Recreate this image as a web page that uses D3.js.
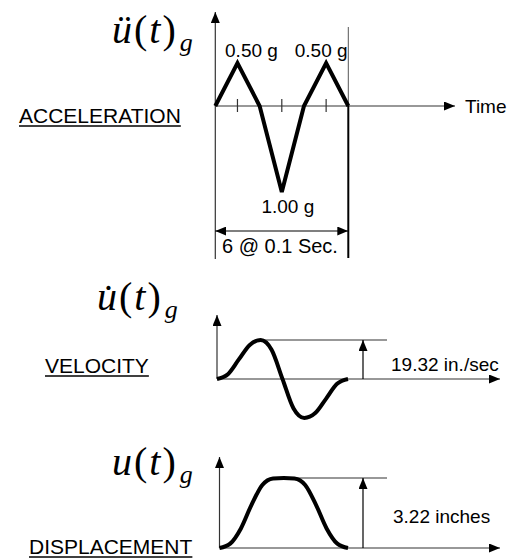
<!DOCTYPE html>
<html>
<head>
<meta charset="utf-8">
<script src="https://cdn.jsdelivr.net/npm/d3@7"></script>
<style>
  html, body { margin: 0; padding: 0; background: #fff; }
  svg { display: block; }
</style>
</head>
<body>
<svg id="chart"></svg>
<script>
// ground motion data
const accTimes = [0, 0.1, 0.2, 0.3, 0.4, 0.5, 0.6];          // sec
const accValues = [0, 0.5, 0, -1.0, 0, 0.5, 0];              // g
const accTicks = [0.1, 0.3, 0.5];

const curveTimes = [0, 0.05, 0.1, 0.15, 0.2, 0.25, 0.3, 0.35, 0.4, 0.45, 0.5, 0.55, 0.6];
const velValues = [0, 2.4, 9.7, 16.9, 19.32, 14.5, 0, -14.5, -19.32, -16.9, -9.7, -2.4, 0];   // in./sec
const dispValues = [0, 0.2, 0.9, 2.0, 2.9, 3.2, 3.22, 3.2, 2.9, 2.0, 0.9, 0.2, 0];            // inches

const peakLabels = ["0.50 g", "0.50 g"];
const troughLabel = "1.00 g";
const spanLabel = "6 @ 0.1 Sec.";
const velLabel = "19.32 in./sec";
const dispLabel = "3.22 inches";
const panelNames = ["ACCELERATION", "VELOCITY", "DISPLACEMENT"];

const width = 515, height = 558;
const sans = "'Liberation Sans', Arial, sans-serif";
const serif = "'Liberation Serif', 'Times New Roman', serif";

const svg = d3.select("#chart").attr("width", width).attr("height", height);

// arrow head marker
const defs = svg.append("defs");
defs.append("marker")
  .attr("id", "arrow")
  .attr("markerUnits", "userSpaceOnUse")
  .attr("markerWidth", 11).attr("markerHeight", 9)
  .attr("refX", 11).attr("refY", 4.5)
  .attr("orient", "auto-start-reverse")
  .append("path")
  .attr("d", "M0,0 L11,4.5 L0,9 Z")
  .attr("fill", "#000");

function arrowLine(x1, y1, x2, y2, opts = {}) {
  const l = svg.append("line")
    .attr("x1", x1).attr("y1", y1).attr("x2", x2).attr("y2", y2)
    .attr("stroke", opts.color || "#333")
    .attr("stroke-width", opts.w || 1.2);
  if (opts.end !== false) l.attr("marker-end", "url(#arrow)");
  if (opts.start) l.attr("marker-start", "url(#arrow)");
  return l;
}

function label(x, y, txt, size, anchor) {
  return svg.append("text")
    .attr("x", x).attr("y", y)
    .attr("font-family", sans)
    .attr("font-size", size)
    .attr("text-anchor", anchor || "start")
    .attr("fill", "#000")
    .text(txt);
}

function underlined(x, y, txt) {
  const t = label(x, y, txt, 21);
  const len = t.node().getComputedTextLength();
  svg.append("line")
    .attr("x1", x).attr("x2", x + len)
    .attr("y1", y + 3).attr("y2", y + 3)
    .attr("stroke", "#000").attr("stroke-width", 1.5);
}

// u(t)_g symbol, u with optional diacritic
function symbol(x, y, u) {
  const t = svg.append("text")
    .attr("x", x).attr("y", y)
    .attr("font-family", serif)
    .attr("font-size", 40)
    .attr("fill", "#000");
  t.append("tspan").attr("font-style", "italic").text(u);
  t.append("tspan").attr("dx", 2).text("(");
  t.append("tspan").attr("dx", 2).attr("font-style", "italic").text("t");
  t.append("tspan").attr("dx", 2).text(")");
  t.append("tspan").attr("dx", 4).attr("dy", 8)
    .attr("font-size", 26).attr("font-style", "italic").text("g");
}

// ---------- ACCELERATION ----------
const xA = d3.scaleLinear().domain([0, 0.6]).range([215.3, 348.3]);
const yA = d3.scaleLinear().domain([-1, 0.5]).range([192, 63]);

symbol(112, 43, "\u00fc");
underlined(19, 123, panelNames[0]);

// box sides and axes
arrowLine(xA(0), 259, xA(0), 12);
arrowLine(xA(0), yA(0), 455, yA(0));
svg.append("line")
  .attr("x1", xA(0.6)).attr("x2", xA(0.6)).attr("y1", 27).attr("y2", yA(0))
  .attr("stroke", "#555").attr("stroke-width", 1);
svg.append("line")
  .attr("x1", xA(0.6)).attr("x2", xA(0.6)).attr("y1", yA(0)).attr("y2", 258)
  .attr("stroke", "#000").attr("stroke-width", 2);

svg.selectAll(".acc-tick")
  .data(accTicks)
  .enter()
  .append("line")
  .attr("class", "acc-tick")
  .attr("x1", (d) => xA(d)).attr("x2", (d) => xA(d))
  .attr("y1", yA(0) - 7).attr("y2", yA(0) + 6)
  .attr("stroke", "#333").attr("stroke-width", 1.2);

svg.append("path")
  .datum(accTimes.map((t, i) => [t, accValues[i]]))
  .attr("d", d3.line().x((d) => xA(d[0])).y((d) => yA(d[1])))
  .attr("fill", "none")
  .attr("stroke", "#000")
  .attr("stroke-width", 4)
  .attr("stroke-linejoin", "miter");

label(465, yA(0) + 7, "Time", 19);

// peak / trough labels
const peakOffsets = [14, -5];
const peakTimes = [0.1, 0.5];
peakLabels.forEach((txt, i) => label(xA(peakTimes[i]) + peakOffsets[i], 57, txt, 19, "middle"));
label(xA(0.3) + 6, 213, troughLabel, 19, "middle");

// 6 @ 0.1 Sec. dimension
arrowLine(xA(0), 231, xA(0.6), 231, { start: true, color: "#000" });
label(222, 253, spanLabel, 20);

// ---------- VELOCITY ----------
const xV = d3.scaleLinear().domain([0, 0.6]).range([217, 348]);
const yV = d3.scaleLinear().domain([-19.32, 19.32]).range([418, 340]);

symbol(97, 310, "u\u0307");
underlined(45, 373, panelNames[1]);

arrowLine(xV(0), yV(0), xV(0), 315);
arrowLine(xV(0), yV(0), 500, yV(0));
svg.append("line")
  .attr("x1", xV(0.2)).attr("x2", 387).attr("y1", yV(19.32)).attr("y2", yV(19.32))
  .attr("stroke", "#333").attr("stroke-width", 1.2);
arrowLine(363, yV(0), 363, yV(19.32), { color: "#000" });

svg.append("path")
  .datum(curveTimes.map((t, i) => [t, velValues[i]]))
  .attr("d", d3.line().curve(d3.curveMonotoneX).x((d) => xV(d[0])).y((d) => yV(d[1])))
  .attr("fill", "none")
  .attr("stroke", "#000")
  .attr("stroke-width", 4);

label(391, 371, velLabel, 19);

// ---------- DISPLACEMENT ----------
const xD = d3.scaleLinear().domain([0, 0.6]).range([219.5, 348]);
const yD = d3.scaleLinear().domain([0, 3.22]).range([548, 478]);

symbol(112, 475, "u");
underlined(29, 554, panelNames[2]);

arrowLine(xD(0), yD(0), xD(0), 457);
arrowLine(xD(0), yD(0), 500, yD(0));
svg.append("line")
  .attr("x1", xD(0.3)).attr("x2", 387).attr("y1", yD(3.22)).attr("y2", yD(3.22))
  .attr("stroke", "#333").attr("stroke-width", 1.2);
arrowLine(363, yD(0), 363, yD(3.22), { color: "#000" });

svg.append("path")
  .datum(curveTimes.map((t, i) => [t, dispValues[i]]))
  .attr("d", d3.line().curve(d3.curveMonotoneX).x((d) => xD(d[0])).y((d) => yD(d[1])))
  .attr("fill", "none")
  .attr("stroke", "#000")
  .attr("stroke-width", 4);

label(393, 523, dispLabel, 19);
</script>
</body>
</html>
